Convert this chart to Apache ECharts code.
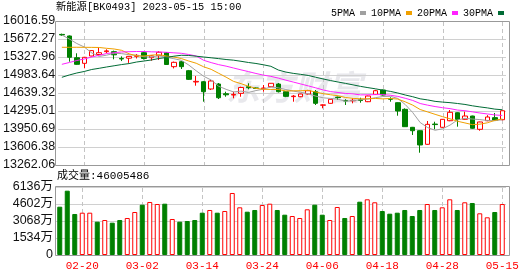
<!DOCTYPE html>
<html><head><meta charset="utf-8">
<script src="https://cdn.jsdelivr.net/npm/echarts@6/dist/echarts.min.js"></script>
<style>html,body{margin:0;padding:0;background:#fff}#c{width:530px;height:276px}</style>
</head><body><div id="c"></div>
<script>
const titleText = '新能源[BK0493] 2023-05-15 15:00';
const volumeTitle = '成交量:46005486';
const dates = ['02-15','02-16','02-17','02-20','02-21','02-22','02-23','02-24','02-27','02-28',
 '03-01','03-02','03-03','03-06','03-07','03-08','03-09','03-10','03-13','03-14',
 '03-15','03-16','03-17','03-20','03-21','03-22','03-23','03-24','03-27','03-28',
 '03-29','03-30','03-31','04-03','04-04','04-06','04-07','04-10','04-11','04-12',
 '04-13','04-14','04-17','04-18','04-19','04-20','04-21','04-24','04-25','04-26',
 '04-27','04-28','05-04','05-05','05-08','05-09','05-10','05-11','05-12','05-15'];
const labelDates = ['02-20','03-02','03-14','03-24','04-06','04-18','04-28','05-15'];
const opens = [15760,15730,15314,15207,15347,15375,15430,15430,15300,15305,
 15340,15410,15315,15353,15410,15143,15238,15066,14850,14855,
 14716,14811,14625,14600,14633,14760,14735,14720,14760,14811,
 14664,14570,14568,14620,14664,14405,14442,14560,14495,14490,
 14510,14473,14614,14697,14530,14454,14327,13983,13918,13658,
 14045,13983,14109,14262,14136,14199,13945,14109,14168,14128];
const closes = [15750,15322,15188,15322,15450,15410,15445,15370,15290,15340,
 15360,15300,15350,15418,15185,15226,15143,14900,14862,14664,
 14869,14549,14605,14612,14745,14740,14728,14735,14825,14664,
 14575,14580,14620,14683,14442,14412,14519,14550,14486,14500,
 14495,14582,14683,14601,14520,14295,13995,13918,13645,14040,
 14035,14136,14270,14136,14199,13965,14085,14180,14116,14300];
const highs = [15775,15740,15399,15330,15460,15505,15475,15450,15340,15345,
 15385,15440,15360,15440,15420,15240,15250,15080,14964,14870,
 14888,14830,14664,14664,14760,14825,14745,14792,14830,14830,
 14670,14600,14625,14700,14697,14420,14525,14570,14520,14538,
 14549,14590,14700,14705,14557,14460,14346,13990,13925,14104,
 14090,14140,14314,14270,14282,14205,14090,14215,14257,14305];
const lows = [15735,15238,15180,15112,15340,15353,15405,15284,15250,15215,
 15300,15280,15257,15270,15180,15110,15098,14888,14779,14473,
 14697,14524,14568,14538,14568,14710,14715,14664,14750,14650,
 14560,14473,14560,14610,14410,14347,14435,14505,14410,14442,
 14454,14465,14605,14590,14473,14205,13990,13836,13497,13650,
 13945,13975,14100,13995,14130,13955,13918,14100,14110,14120];
const volumes = [43590000,58020000,37000000,38170000,38170000,30050000,31580000,29150000,31580000,33390000,
 38800000,45390000,47830000,46020000,46290000,32490000,30050000,30680000,31580000,38170000,
 40610000,38170000,39710000,55950000,43020000,39070000,40610000,45120000,46290000,40610000,
 36370000,35190000,33390000,41240000,45390000,36370000,31580000,43320000,33390000,35190000,
 48100000,50260000,47560000,39710000,37270000,38170000,40610000,35190000,40610000,46020000,
 40610000,43020000,50260000,40610000,47560000,46930000,37630000,34020000,38800000,46005486];
const ma5Head = [15749,15672,15586,15519];
const ma10Head = [15514,15513,15514,15513,15512,15510,15494,15481,15456];
const ma20Head = [15188,15223,15261,15290,15328,15360,15395,15410,15424,15429,15433,15433,15427,15424,15418,15408,15399,15376,15347];
const ma30Head = [14940,14984,15022,15051,15089,15112,15137,15160,15183,15202,15232,15251,15271,15299,15318,15343,15361,15357,15343,15328,15313,15297,15280,15267,15246,15223,15204,15179,15150];
const maNames = ['5PMA','10PMA','20PMA','30PMA'];
const priceTicks = ['13262.06','13606.38','13950.69','14295.01','14639.32','14983.64','15327.96','15672.27','16016.59'];
const volumeTicks = ['0','1534万','3068万','4602万','6136万'];
const volumeTickValues = [0,15340000,30680000,46020000,61360000];

const MONO = "'Liberation Mono','Noto Sans CJK SC',monospace";
const SANS = "'Liberation Sans','Noto Sans CJK SC',sans-serif";
const maColors = ['#a0a0a0','#f0a000','#ff22ff','#006b35'];

function movingAverage(n, head) {
  return closes.map((c, i) => {
    if (i < n - 1) return head[i];
    let s = 0;
    for (let k = i - n + 1; k <= i; k++) s += closes[k];
    return +(s / n).toFixed(2);
  });
}
const maData = [movingAverage(5, ma5Head), movingAverage(10, ma10Head), movingAverage(20, ma20Head), movingAverage(30, ma30Head)];

const candleData = dates.map((d, i) => [opens[i], closes[i], lows[i], highs[i]]);
const volData = volumes.map((v, i) => {
  const up = i === 0 ? closes[0] >= opens[0] : closes[i] >= closes[i - 1];
  return { value: v, itemStyle: up ? { color: '#ffffff', borderColor: '#ff0000', borderWidth: 1 } : { color: '#008000', borderColor: '#008000', borderWidth: 1 } };
});

const priceMin = parseFloat(priceTicks[0]);
const priceMax = parseFloat(priceTicks[priceTicks.length - 1]);
const volMax = volumeTickValues[volumeTickValues.length - 1];
const showTick = (i) => labelDates.indexOf(dates[i]) >= 0;

const GRID_LEFT = 56, GRID_W = 450;
const GRIDS = [{ top: 21, height: 144 }, { top: 187, height: 68 }];
const chart = echarts.init(document.getElementById('c'), null, { renderer: 'canvas' });

const frame = (x1, y1, x2, y2) => ({ type: 'line', z: 100, silent: true, shape: { x1, y1, x2, y2 }, style: { stroke: '#999', lineWidth: 1 } });
const baseGraphic = [
  { type: 'text', left: 226, top: 70, z: 0, silent: true,
    style: { text: '东方财富', fill: 'rgba(205,205,212,0.45)', font: 'italic bold 34px "Noto Sans CJK SC"' } },
  { type: 'text', left: 56, top: 2, style: { text: titleText, fill: '#000', font: '10.3px ' + MONO } },
  { type: 'text', left: 57, top: 171, style: { text: volumeTitle, fill: '#000', font: '11px ' + MONO } },
  frame(55.5, 21.5, 509.5, 21.5), frame(55.5, 165.5, 509.5, 165.5), frame(55.5, 21.5, 55.5, 165.5), frame(509.5, 21.5, 509.5, 165.5),
  frame(55.5, 186.5, 509.5, 186.5), frame(55.5, 255.5, 509.5, 255.5), frame(55.5, 186.5, 55.5, 255.5), frame(509.5, 186.5, 509.5, 255.5)
];

const option = {
  animation: false,
  backgroundColor: '#ffffff',
  legend: {
    left: 326, top: 3, itemWidth: 6, itemHeight: 4, itemGap: 5, align: 'right', icon: 'rect',
    selectedMode: false, data: maNames,
    textStyle: { fontFamily: MONO, fontSize: 10, color: '#000' }
  },
  grid: GRIDS.map(g => ({ left: GRID_LEFT, top: g.top, width: GRID_W, height: g.height })),
  xAxis: [
    { type: 'category', gridIndex: 0, data: dates, boundaryGap: true,
      axisLine: { show: false }, axisTick: { show: false }, axisLabel: { show: false }, splitLine: { show: false } },
    { type: 'category', gridIndex: 1, data: dates, boundaryGap: true,
      axisLine: { show: false }, axisTick: { show: false },
      axisLabel: { show: true, interval: showTick, color: '#ff0000', fontFamily: MONO, fontSize: 11, margin: 6 },
      splitLine: { show: false } }
  ],
  yAxis: [
    { type: 'value', gridIndex: 0, min: priceMin, max: priceMax, interval: (priceMax - priceMin) / 8,
      axisLine: { show: false }, axisTick: { show: false },
      axisLabel: { formatter: (v, i) => (priceTicks[i] !== undefined ? priceTicks[i] : ''), color: '#111', fontFamily: SANS, fontSize: 12.5, margin: 3 },
      splitLine: { lineStyle: { color: '#d0d0d0', width: 1 } } },
    { type: 'value', gridIndex: 1, min: 0, max: volMax, interval: volMax / 4,
      axisLine: { show: false }, axisTick: { show: false },
      axisLabel: { formatter: (v, i) => (volumeTicks[i] !== undefined ? volumeTicks[i] : ''), color: '#111', fontFamily: SANS, fontSize: 12.5, margin: 3 },
      splitLine: { lineStyle: { color: '#d0d0d0', width: 1 } } }
  ],
  series: [
    { type: 'candlestick', name: '新能源', xAxisIndex: 0, yAxisIndex: 0, data: candleData, barWidth: 5, z: 2,
      itemStyle: { color: '#ffffff', color0: '#008000', borderColor: '#ff0000', borderColor0: '#008000', borderWidth: 1 } }
  ].concat(maNames.map((n, k) => ({
    type: 'line', name: n, xAxisIndex: 0, yAxisIndex: 0, data: maData[k], showSymbol: false, symbol: 'none',
    lineStyle: { color: maColors[k], width: 1 }, itemStyle: { color: maColors[k] }, z: 3
  }))).concat([
    { type: 'bar', name: '成交量', xAxisIndex: 1, yAxisIndex: 1, data: volData, barWidth: 5, z: 2 }
  ]),
  graphic: baseGraphic
};
try { chart.setOption(option); } catch (e) { console.error(e); }

// x pixel of a category, through the chart's own x axis
function catX(k, d) {
  let x = NaN;
  try { x = chart.convertToPixel({ xAxisIndex: k }, d); } catch (e) {}
  if (typeof x !== 'number' || !isFinite(x)) {
    try { x = chart.convertToPixel({ gridIndex: k }, [d, k === 0 ? priceMin : 0])[0]; } catch (e) {}
  }
  return x;
}

// dashed vertical grid lines at the labelled dates
function buildDashes() {
  const dashLines = [];
  GRIDS.forEach((g, k) => {
    const yTop = g.top, yBot = g.top + g.height;
    labelDates.forEach(d => {
      const px = catX(k, d);
      if (!isFinite(px)) return;
      const x = Math.round(px) + 0.5;
      for (let y = yTop + 1; y < yBot; y += 7) {
        dashLines.push({ type: 'line', z: 1, silent: true,
          shape: { x1: x, y1: y, x2: x, y2: Math.min(y + 4, yBot) },
          style: { stroke: '#c4c4c4', lineWidth: 1 } });
      }
    });
  });
  return dashLines;
}
try { chart.setOption({ graphic: baseGraphic.concat(buildDashes()) }); } catch (e) { console.error(e); }
</script></body></html>
